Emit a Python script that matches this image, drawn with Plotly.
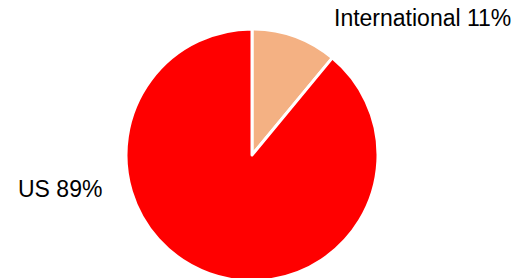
import plotly.graph_objects as go

labels = ["International", "US"]
values = [11, 89]
colors = ["#F4B183", "#FF0000"]

W, H = 522, 310
cx, cy, r = 252, 155, 126

fig = go.Figure(go.Pie(
    labels=labels,
    values=values,
    sort=False,
    direction="clockwise",
    rotation=0,
    textinfo="none",
    hoverinfo="label+percent",
    marker=dict(colors=colors, line=dict(color="white", width=3)),
    domain=dict(x=[(cx - r) / W, (cx + r) / W], y=[0, 1]),
    showlegend=False,
))

label_pos = [(422, 18), (60, 189)]  # pixel centres of label text
annotations = []
for lab, val, (px, py) in zip(labels, values, label_pos):
    annotations.append(dict(
        text=f"{lab} {val}%",
        x=px / W, y=1 - py / H, xref="paper", yref="paper",
        xanchor="center", yanchor="middle", showarrow=False,
        font=dict(family="Liberation Sans, Arial", size=23, color="#000000"),
    ))

fig.update_layout(
    width=W, height=H,
    margin=dict(l=0, r=0, t=0, b=0),
    paper_bgcolor="white", plot_bgcolor="white",
    annotations=annotations,
)

fig.write_html(
    "out.html",
    config={"displayModeBar": False},
    post_script="document.body.style.margin='0';document.body.style.overflow='hidden';document.documentElement.style.overflow='hidden';",
)
